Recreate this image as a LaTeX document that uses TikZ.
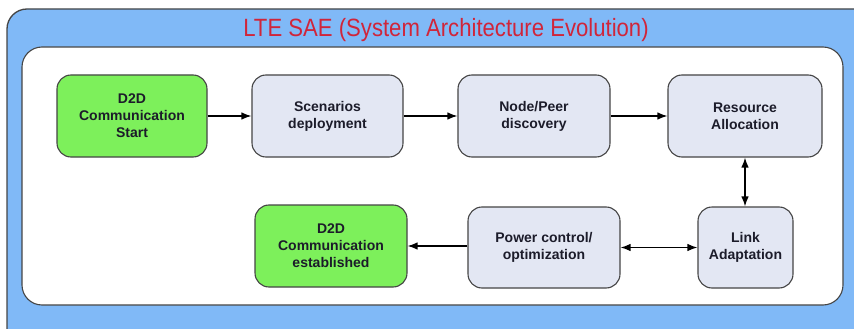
\documentclass[tikz,border=0pt]{standalone}
\usepackage{fontspec}
\usepackage{graphicx}
\setmainfont{Liberation Sans}
\usetikzlibrary{arrows.meta}
\definecolor{bgblue}{HTML}{80B9F7}
\definecolor{greenbox}{HTML}{7DF05B}
\definecolor{greybox}{HTML}{E3E7F3}
\definecolor{edgegrey}{HTML}{454545}
\definecolor{titlered}{HTML}{D0253A}
\definecolor{txt}{HTML}{1C1C2A}
\begin{document}
\begin{tikzpicture}[x=1pt,y=-1pt,
  box/.style={draw=edgegrey, line width=1.1pt, rounded corners=14pt, align=center,
    font=\fontsize{14}{17}\selectfont\bfseries, text=txt, inner sep=0pt},
  gbox/.style={box, fill=greenbox},
  bbox/.style={box, fill=greybox},
  arr/.style={line width=1.3pt, -{Latex[length=10pt,width=7.5pt]}},
  darr/.style={line width=1.3pt, {Latex[length=10pt,width=7.5pt]}-{Latex[length=10pt,width=7.5pt]}}]
\useasboundingbox (0,0) rectangle (854,329);
\clip (0,0) rectangle (854,329);
\draw[fill=bgblue, draw=edgegrey, line width=1.3pt, rounded corners=20pt] (7,9) rectangle (880,360);
\draw[fill=white, draw=edgegrey, line width=1.1pt, rounded corners=20pt] (22,47) rectangle (843,305);
\node[text=titlered, font=\fontsize{25}{28}\selectfont] (title) at (446,30) {\scalebox{0.885}[1]{LTE SAE (System Architecture Evolution)}};
\node[gbox, minimum width=150pt, minimum height=82pt] (start) at (132,116) {D2D\\Communication\\Start};
\node[bbox, minimum width=151pt, minimum height=82pt] (scen) at (327.5,116) {Scenarios\\deployment};
\node[bbox, minimum width=152pt, minimum height=82pt] (peer) at (534,116) {Node/Peer\\discovery};
\node[bbox, minimum width=154pt, minimum height=82pt] (res) at (745,116) {Resource\\Allocation};
\node[gbox, minimum width=152pt, minimum height=82pt] (est) at (331,246) {D2D\\Communication\\established};
\node[bbox, minimum width=152pt, minimum height=81pt] (pow) at (544,247.5) {Power control/\\optimization};
\node[bbox, minimum width=95pt, minimum height=81pt] (link) at (745.5,247.5) {Link\\Adaptation};
\draw[arr] (start) -- (scen);
\draw[arr] (scen) -- (peer);
\draw[arr] (peer) -- (res);
\draw[darr] (res.south) -- (res.south |- link.north);
\draw[darr] (pow) -- (link);
\draw[arr] (pow.west |- est.east) -- (est.east);
\end{tikzpicture}
\end{document}
